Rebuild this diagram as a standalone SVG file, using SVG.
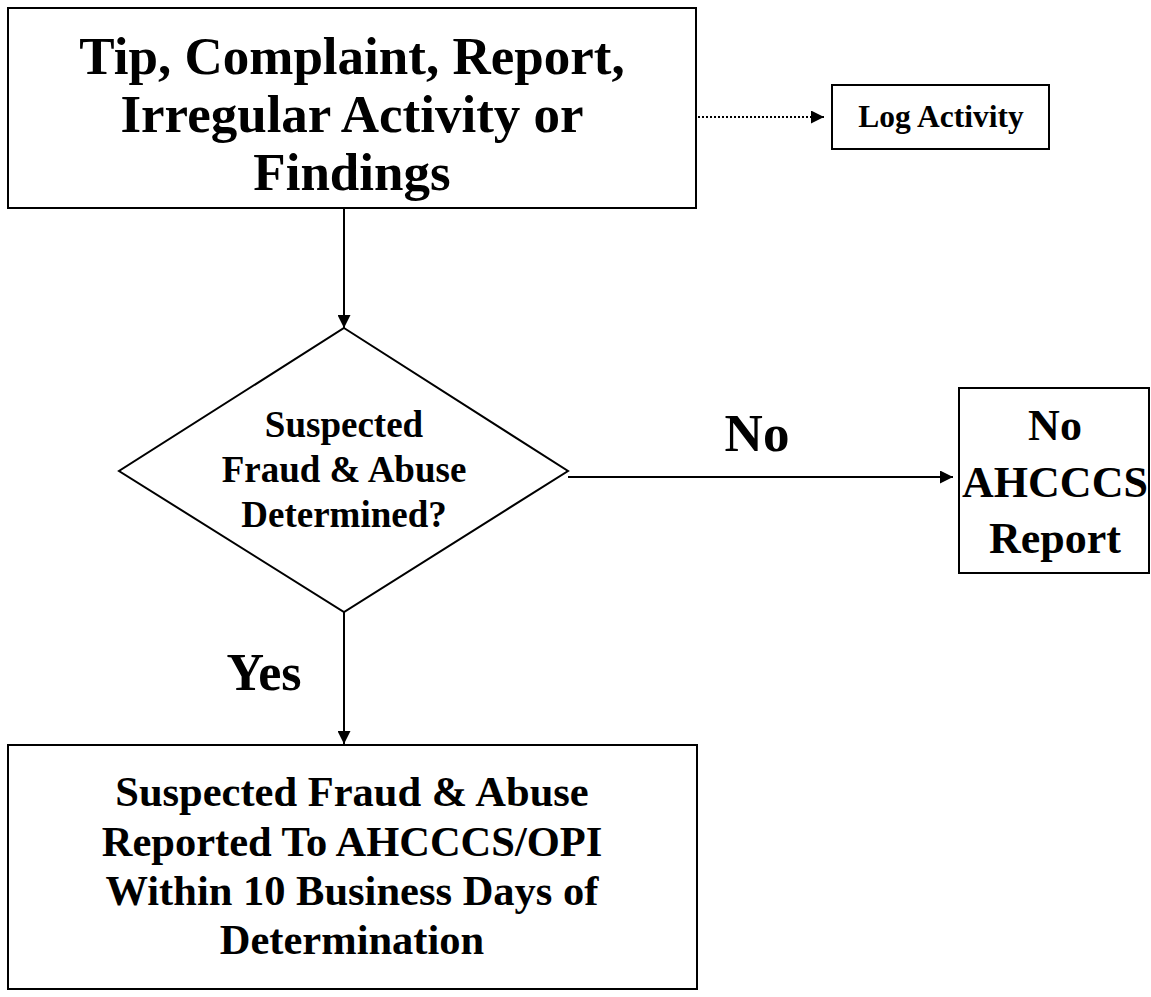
<svg xmlns="http://www.w3.org/2000/svg" width="1151" height="997" viewBox="0 0 1151 997">
<defs>
<style>
.box{fill:#fff;stroke:#000;stroke-width:2}
.t{font-family:"Liberation Serif","Times New Roman",serif;font-weight:bold;fill:#000;text-anchor:middle}
.ln{stroke:#000;stroke-width:2;fill:none}
.dot{stroke:#000;stroke-width:2;fill:none;stroke-dasharray:2 2}
</style>
<marker id="ah" viewBox="0 0 10 10" refX="10" refY="5" markerWidth="13" markerHeight="13" markerUnits="userSpaceOnUse" orient="auto">
<path d="M0,0 L10,5 L0,10 z" fill="#000"/>
</marker>
</defs>
<rect width="1151" height="997" fill="#fff"/>
<g id="connectors">
<line class="dot" x1="698" y1="117" x2="824" y2="117" marker-end="url(#ah)"/>
<line class="ln" x1="344" y1="208" x2="344" y2="328" marker-end="url(#ah)"/>
<line class="ln" x1="568" y1="477" x2="953" y2="477" marker-end="url(#ah)"/>
<line class="ln" x1="344" y1="612" x2="344" y2="744" marker-end="url(#ah)"/>
<text class="t" x="757" y="451" font-size="53">No</text>
<text class="t" x="264" y="690" font-size="52">Yes</text>
</g>
<g id="start">
<rect class="box" x="8" y="8" width="688" height="200"/>
<text class="t" font-size="53"><tspan x="352" y="74">Tip, Complaint, Report,</tspan><tspan x="352" y="132">Irregular Activity or</tspan><tspan x="352" y="190">Findings</tspan></text>
</g>
<g id="log">
<rect class="box" x="832" y="85" width="217" height="64"/>
<text class="t" x="941" y="127" font-size="31.5">Log Activity</text>
</g>
<g id="decision">
<polygon class="box" points="344,328 568,471 344,612 119,471"/>
<text class="t" font-size="37"><tspan x="344" y="437">Suspected</tspan><tspan x="344" y="482">Fraud &amp; Abuse</tspan><tspan x="344" y="527">Determined?</tspan></text>
</g>
<g id="noreport">
<rect class="box" x="959" y="388" width="190" height="185"/>
<text class="t" font-size="44"><tspan x="1055" y="440">No</tspan><tspan x="1055" y="497">AHCCCS</tspan><tspan x="1055" y="553">Report</tspan></text>
</g>
<g id="report">
<rect class="box" x="8" y="745" width="689" height="244"/>
<text class="t" font-size="42.5"><tspan x="352" y="806">Suspected Fraud &amp; Abuse</tspan><tspan x="352" y="856">Reported To AHCCCS/OPI</tspan><tspan x="352" y="905">Within 10 Business Days of</tspan><tspan x="352" y="954">Determination</tspan></text>
</g>
</svg>
